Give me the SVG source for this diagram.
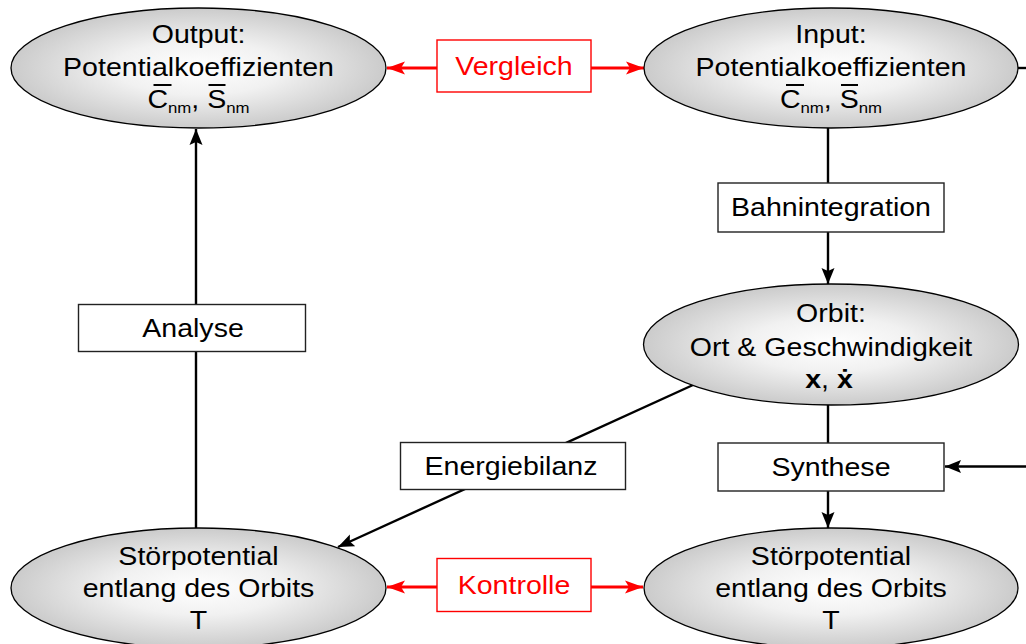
<svg xmlns="http://www.w3.org/2000/svg" width="1026" height="644" viewBox="0 0 1026 644">
<style>
.el{fill:url(#gr);stroke:#000;stroke-width:1.3}
.bx{fill:#fff;stroke:#222;stroke-width:1.4}
.rbx{fill:#fff;stroke:#f00;stroke-width:1.4}
.t{font-family:"Liberation Sans",Arial,Helvetica,sans-serif;font-size:25.5px;fill:#000;text-anchor:middle}
.rt{fill:#f00}
.ln{stroke:#000;stroke-width:2.4;fill:none}
.rln{stroke:#f00;stroke-width:2.8;fill:none}
.sub{font-size:15px}
.ovl{stroke:#000;stroke-width:2}
</style>
<defs>
<radialGradient id="gr" cx="50%" cy="50%" r="50%">
<stop offset="0" stop-color="#ffffff"/>
<stop offset="0.45" stop-color="#f1f1f1"/>
<stop offset="1" stop-color="#cbcbcb"/>
</radialGradient>
<marker id="ab" markerUnits="userSpaceOnUse" markerWidth="18" markerHeight="14" refX="16" refY="7" orient="auto">
<path d="M0,0.5 L16,7 L0,13.5 L3,7 Z" fill="#000"/>
</marker>
<marker id="ar" markerUnits="userSpaceOnUse" markerWidth="20" markerHeight="14" refX="18" refY="7" orient="auto">
<path d="M0,0.5 L18,7 L0,13.5 L4,7 Z" fill="#f00"/>
</marker>
</defs>
<rect width="1026" height="644" fill="#fff"/>

<g id="connectors">
<line class="ln" x1="196" y1="528" x2="196" y2="129" marker-end="url(#ab)"/>
<line class="ln" x1="828" y1="128" x2="828" y2="284" marker-end="url(#ab)"/>
<line class="ln" x1="828" y1="405" x2="828" y2="528" marker-end="url(#ab)"/>
<line class="ln" x1="693" y1="385" x2="338" y2="547" marker-end="url(#ab)"/>
<line class="ln" x1="1026" y1="466.5" x2="945" y2="466.5" marker-end="url(#ab)"/>
<line class="ln" x1="1018" y1="68" x2="1026" y2="68"/>
<line class="rln" x1="437" y1="68" x2="387" y2="68" marker-end="url(#ar)"/>
<line class="rln" x1="591" y1="68" x2="644" y2="68" marker-end="url(#ar)"/>
<line class="rln" x1="437" y1="587" x2="387" y2="587" marker-end="url(#ar)"/>
<line class="rln" x1="591" y1="587" x2="643" y2="587" marker-end="url(#ar)"/>
</g>

<g id="output">
<ellipse class="el" cx="198.5" cy="68" rx="187.5" ry="60"/>
<text class="t" transform="translate(198.5 0) scale(1.12 1)" y="43">Output:</text>
<text class="t" transform="translate(198.5 0) scale(1.12 1)" y="76">Potentialkoeffizienten</text>
<text class="t" transform="translate(198.5 0) scale(1.12 1)" y="108"><tspan>C</tspan><tspan class="sub" dy="5">nm</tspan><tspan dy="-5">, </tspan><tspan>S</tspan><tspan class="sub" dy="5">nm</tspan></text>
<line class="ovl" x1="153.5" y1="85" x2="171.5" y2="85"/>
<line class="ovl" x1="208.5" y1="85" x2="225.5" y2="85"/>
</g>

<g id="input">
<ellipse class="el" cx="831" cy="68" rx="187" ry="60"/>
<text class="t" transform="translate(831 0) scale(1.12 1)" y="43">Input:</text>
<text class="t" transform="translate(831 0) scale(1.12 1)" y="76">Potentialkoeffizienten</text>
<text class="t" transform="translate(831 0) scale(1.12 1)" y="108"><tspan>C</tspan><tspan class="sub" dy="5">nm</tspan><tspan dy="-5">, </tspan><tspan>S</tspan><tspan class="sub" dy="5">nm</tspan></text>
<line class="ovl" x1="786" y1="85" x2="804" y2="85"/>
<line class="ovl" x1="841" y1="85" x2="858" y2="85"/>
</g>

<g id="orbit">
<ellipse class="el" cx="831" cy="344.5" rx="187.5" ry="60.5"/>
<text class="t" transform="translate(831 0) scale(1.12 1)" y="322">Orbit:</text>
<text class="t" transform="translate(831 0) scale(1.12 1)" y="356">Ort &amp; Geschwindigkeit</text>
<text class="t" transform="translate(829 0) scale(1.12 1)" y="388"><tspan font-weight="bold">x</tspan>, <tspan font-weight="bold">ẋ</tspan></text>
</g>

<g id="stoer-links">
<ellipse class="el" cx="198.5" cy="588" rx="187.5" ry="60"/>
<text class="t" transform="translate(198.5 0) scale(1.12 1)" y="565">Störpotential</text>
<text class="t" transform="translate(198.5 0) scale(1.12 1)" y="597">entlang des Orbits</text>
<text class="t" transform="translate(198.5 0) scale(1.12 1)" y="629">T</text>
</g>

<g id="stoer-rechts">
<ellipse class="el" cx="831" cy="588" rx="187" ry="60"/>
<text class="t" transform="translate(831 0) scale(1.12 1)" y="565">Störpotential</text>
<text class="t" transform="translate(831 0) scale(1.12 1)" y="597">entlang des Orbits</text>
<text class="t" transform="translate(831 0) scale(1.12 1)" y="629">T</text>
</g>

<g id="vergleich">
<rect class="rbx" x="437" y="40" width="154" height="52"/>
<text class="t rt" transform="translate(514 0) scale(1.12 1)" y="75">Vergleich</text>
</g>

<g id="kontrolle">
<rect class="rbx" x="437" y="558.5" width="154" height="53"/>
<text class="t rt" transform="translate(514 0) scale(1.12 1)" y="594">Kontrolle</text>
</g>

<g id="bahnintegration">
<rect class="bx" x="718" y="183" width="226" height="49"/>
<text class="t" transform="translate(831 0) scale(1.12 1)" y="216.5">Bahnintegration</text>
</g>

<g id="analyse">
<rect class="bx" x="78.5" y="304.5" width="227" height="47"/>
<text class="t" transform="translate(193 0) scale(1.12 1)" y="337">Analyse</text>
</g>

<g id="energiebilanz">
<rect class="bx" x="400.5" y="442.5" width="225" height="47"/>
<text class="t" transform="translate(511 0) scale(1.12 1)" y="475">Energiebilanz</text>
</g>

<g id="synthese">
<rect class="bx" x="718" y="443" width="226" height="48"/>
<text class="t" transform="translate(831 0) scale(1.12 1)" y="476">Synthese</text>
</g>
</svg>
